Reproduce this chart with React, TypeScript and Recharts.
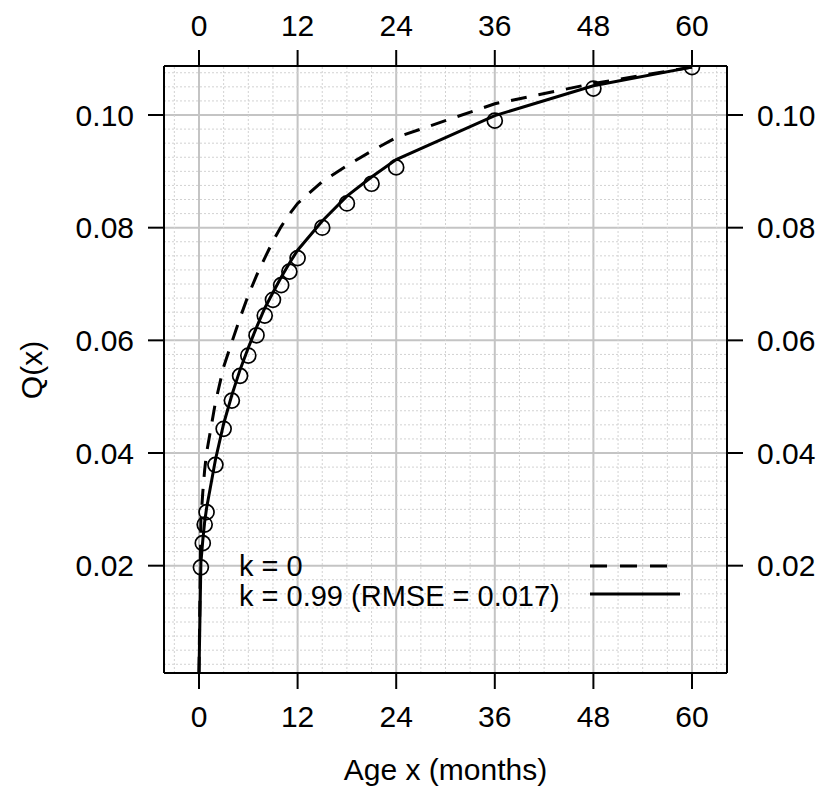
import React from 'react';
import {
  ComposedChart, Line, Scatter, XAxis, YAxis, CartesianGrid, ReferenceLine, Legend, Label
} from 'recharts';

// ages (months) at which the data and both fitted curves are read
const months = [0, 0.23, 0.46, 0.69, 0.92, 2, 3, 4, 5, 6, 7, 8, 9, 10, 11, 12, 15, 18, 21, 24, 36, 48, 60];
const observed = [null, 0.0197, 0.024, 0.0273, 0.0295, 0.0379, 0.0443, 0.0493, 0.0537, 0.0573, 0.0609, 0.0644, 0.0672, 0.0698, 0.0722, 0.0746, 0.08, 0.0843, 0.0878, 0.0907, 0.099, 0.1047, 0.1085];
const fitK0 = [0.001, 0.028, 0.033, 0.037, 0.04, 0.049, 0.0553, 0.0597, 0.064, 0.068, 0.0715, 0.0746, 0.0776, 0.0802, 0.0824, 0.0843, 0.0882, 0.091, 0.0936, 0.096, 0.102, 0.1056, 0.1085];
const fitK99 = [0.001, 0.0205, 0.0245, 0.0278, 0.0302, 0.0388, 0.0452, 0.0503, 0.0548, 0.0587, 0.0623, 0.0657, 0.0685, 0.0712, 0.0737, 0.076, 0.0812, 0.0856, 0.089, 0.0921, 0.0999, 0.1052, 0.1085];

const monthTicks = [0, 12, 24, 36, 48, 60];
const qTicks = [0.02, 0.04, 0.06, 0.08, 0.1];
const minorMonths = [-3, 3, 6, 9, 15, 18, 21, 27, 30, 33, 39, 42, 45, 51, 54, 57, 63];
const minorQ = [0.0025, 0.005, 0.0075, 0.01, 0.0125, 0.015, 0.0175, 0.0225, 0.025, 0.0275, 0.03, 0.0325, 0.035, 0.0375,
  0.0425, 0.045, 0.0475, 0.05, 0.0525, 0.055, 0.0575, 0.0625, 0.065, 0.0675, 0.07, 0.0725, 0.075, 0.0775,
  0.0825, 0.085, 0.0875, 0.09, 0.0925, 0.095, 0.0975, 0.1025, 0.105, 0.1075];

const curves = months.map((x, i) => ({ x, k0: fitK0[i], k99: fitK99[i] }));
const points = months
  .map((x, i) => ({ x, q: observed[i] }))
  .filter((d) => d.q !== null);

const FONT = '"Liberation Sans", Arial, Helvetica, sans-serif';
const tickStyle = { fontSize: 30, fill: '#000', fontFamily: FONT };
const xDomain = [-4.26, 64.26];
const yDomain = [0.00095, 0.1087];

const LegendBox = ({ payload }: any) => {
  const items = (payload || []).filter((p: any) => p.type !== 'none');
  return (
    <svg width={460} height={70} style={{ overflow: 'visible' }}>
      {items.map((item: any, i: number) => {
        const dashed = !!(item.payload && item.payload.strokeDasharray);
        const y = 30 + i * 30;
        return (
          <g key={i}>
            <text x={0} y={y} fontSize={29} fontFamily={FONT} fill="#000">{item.value}</text>
            <line
              x1={351}
              x2={dashed ? 429 : 441}
              y1={y - 10 - i * 2}
              y2={y - 10 - i * 2}
              stroke="#000"
              strokeWidth={3}
              strokeDasharray={dashed ? '17 13' : undefined}
            />
          </g>
        );
      })}
    </svg>
  );
};

export default function App() {
  return (
    <div style={{ position: 'absolute', left: 0, top: 0, background: '#fff' }}>
      <ComposedChart width={825} height={790} margin={{ top: 16, right: 8, bottom: 0, left: 4 }}>
        <CartesianGrid xAxisId="bottom" yAxisId="left" stroke="#c4c4c4" strokeWidth={2} />
        {minorMonths.map((m) => (
          <ReferenceLine key={'vx' + m} xAxisId="bottom" yAxisId="left" x={m} stroke="#d2d2d2" strokeWidth={1} strokeDasharray="2 2" />
        ))}
        {minorQ.map((q) => (
          <ReferenceLine key={'hy' + q} xAxisId="bottom" yAxisId="left" y={q} stroke="#d2d2d2" strokeWidth={1} strokeDasharray="2 2" />
        ))}
        <XAxis
          xAxisId="bottom"
          type="number"
          dataKey="x"
          domain={xDomain}
          allowDataOverflow
          ticks={monthTicks}
          height={117}
          tickSize={16}
          tickMargin={17}
          tick={tickStyle}
          axisLine={{ stroke: '#000', strokeWidth: 2 }}
          tickLine={{ stroke: '#000', strokeWidth: 2 }}
        >
          <Label
            content={() => (
              <text x={445.5} y={780} textAnchor="middle" fontSize={30} fontFamily={FONT} fill="#000">Age x (months)</text>
            )}
          />
        </XAxis>
        <XAxis
          xAxisId="top"
          orientation="top"
          type="number"
          dataKey="x"
          domain={xDomain}
          allowDataOverflow
          ticks={monthTicks}
          height={50}
          tickSize={16}
          tickMargin={14}
          tick={tickStyle}
          axisLine={{ stroke: '#000', strokeWidth: 2 }}
          tickLine={{ stroke: '#000', strokeWidth: 2 }}
        />
        <YAxis
          yAxisId="left"
          type="number"
          domain={yDomain}
          allowDataOverflow
          ticks={qTicks}
          width={160}
          tickSize={16}
          tickMargin={14}
          tick={tickStyle}
          tickFormatter={(v: number) => v.toFixed(2)}
          axisLine={{ stroke: '#000', strokeWidth: 2 }}
          tickLine={{ stroke: '#000', strokeWidth: 2 }}
        >
          <Label
            content={() => (
              <text x={31} y={370} transform="rotate(-90, 31, 370)" textAnchor="middle" dominantBaseline="central" fontSize={30} fontFamily={FONT} fill="#000">Q(x)</text>
            )}
          />
        </YAxis>
        <YAxis
          yAxisId="right"
          orientation="right"
          type="number"
          domain={yDomain}
          allowDataOverflow
          ticks={qTicks}
          width={90}
          tickSize={16}
          tickMargin={14}
          tick={tickStyle}
          tickFormatter={(v: number) => v.toFixed(2)}
          axisLine={{ stroke: '#000', strokeWidth: 2 }}
          tickLine={{ stroke: '#000', strokeWidth: 2 }}
        />
        <Scatter
          xAxisId="top"
          yAxisId="right"
          data={points}
          dataKey="q"
          legendType="none"
          isAnimationActive={false}
          shape={(p: any) => <circle cx={p.cx} cy={p.cy} r={7.5} fill="none" stroke="#000" strokeWidth={1.7} />}
        />
        <Line
          xAxisId="bottom"
          yAxisId="left"
          data={curves}
          type="linear"
          dataKey="k0"
          name="k = 0"
          stroke="#000"
          strokeWidth={3}
          strokeDasharray="16 12"
          dot={false}
          activeDot={false}
          isAnimationActive={false}
        />
        <Line
          xAxisId="bottom"
          yAxisId="left"
          data={curves}
          type="linear"
          dataKey="k99"
          name="k = 0.99 (RMSE = 0.017)"
          stroke="#000"
          strokeWidth={3}
          dot={false}
          activeDot={false}
          isAnimationActive={false}
        />
        <Legend
          layout="horizontal"
          verticalAlign="middle"
          align="center"
          width={460}
          height={70}
          wrapperStyle={{ left: 239, top: 546, width: 460, height: 70 }}
          content={<LegendBox />}
        />
      </ComposedChart>
    </div>
  );
}
